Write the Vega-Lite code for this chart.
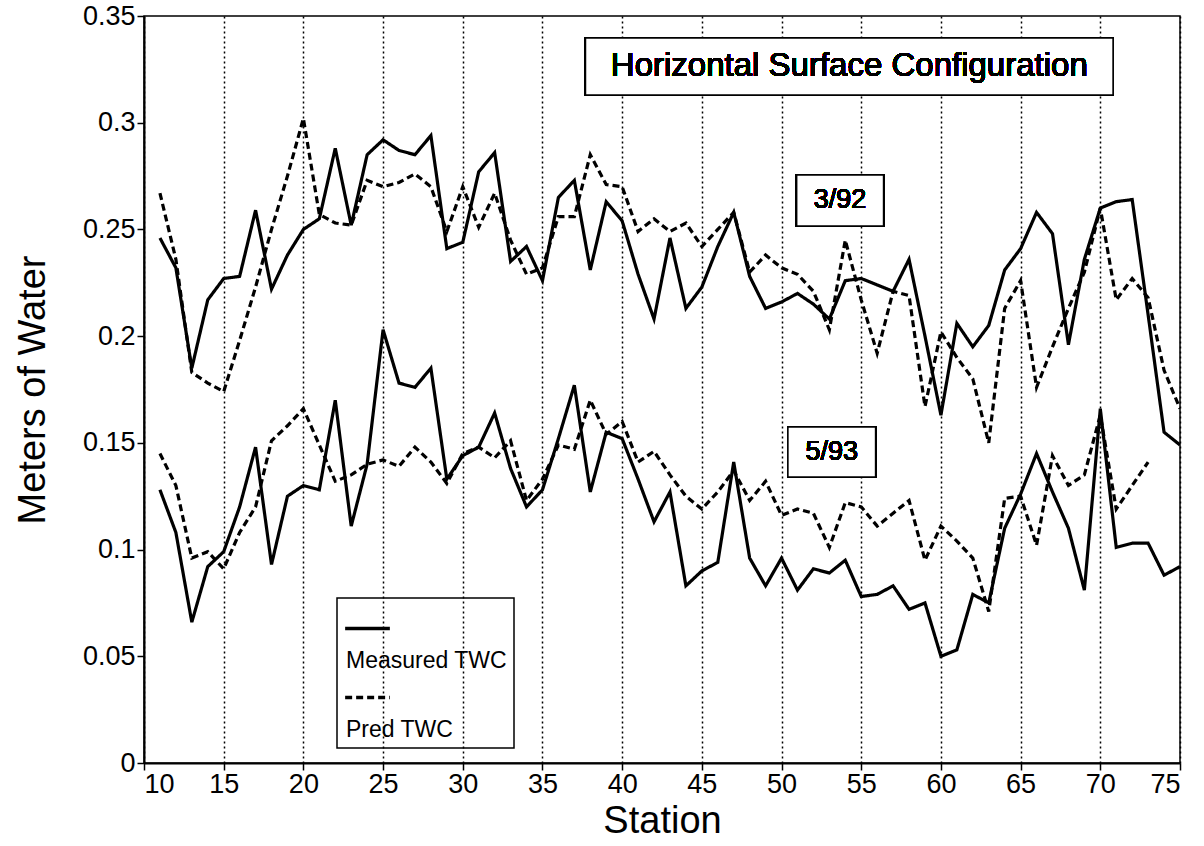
{
  "$schema": "https://vega.github.io/schema/vega-lite/v6.json",
  "autosize": "none",
  "width": 1036,
  "height": 747,
  "padding": {"left": 144, "top": 16, "right": 24, "bottom": 83},
  "background": "white",
  "config": {
    "font": "Liberation Sans",
    "view": {"stroke": "black", "strokeWidth": 1.5},
    "axis": {
      "domainColor": "black", "domainWidth": 2, "tickColor": "black", "tickWidth": 1.5, "tickSize": 7,
      "labelColor": "black", "labelFontSize": 27, "titleColor": "black", "titleFontSize": 38,
      "titleFontWeight": "normal", "labelFont": "Liberation Sans", "titleFont": "Liberation Sans"
    },
    "legend": {
      "orient": "none", "legendX": 193, "legendY": 582, "strokeColor": "black", "strokeWidth": 1.5,
      "padding": 6, "symbolType": "stroke", "symbolStrokeColor": "black", "symbolStrokeWidth": 3.5,
      "symbolSize": 2000, "labelFontSize": 23, "labelColor": "black", "labelFont": "Liberation Sans",
      "labelLimit": 300, "rowPadding": -4, "labelOffset": -46, "title": null
    }
  },
  "data": {"values": [
    {"station": 11, "m92": 0.246, "p92": 0.267, "m93": 0.128, "p93": 0.145},
    {"station": 12, "m92": 0.232, "p92": 0.236, "m93": 0.108, "p93": 0.130},
    {"station": 13, "m92": 0.185, "p92": 0.183, "m93": 0.066, "p93": 0.096},
    {"station": 14, "m92": 0.217, "p92": 0.178, "m93": 0.092, "p93": 0.099},
    {"station": 15, "m92": 0.227, "p92": 0.174, "m93": 0.099, "p93": 0.091},
    {"station": 16, "m92": 0.228, "p92": 0.198, "m93": 0.120, "p93": 0.108},
    {"station": 17, "m92": 0.259, "p92": 0.223, "m93": 0.148, "p93": 0.120},
    {"station": 18, "m92": 0.222, "p92": 0.250, "m93": 0.093, "p93": 0.151},
    {"station": 19, "m92": 0.238, "p92": 0.275, "m93": 0.125, "p93": 0.158},
    {"station": 20, "m92": 0.250, "p92": 0.302, "m93": 0.130, "p93": 0.166},
    {"station": 21, "m92": 0.255, "p92": 0.257, "m93": 0.128, "p93": 0.149},
    {"station": 22, "m92": 0.288, "p92": 0.253, "m93": 0.170, "p93": 0.132},
    {"station": 23, "m92": 0.252, "p92": 0.252, "m93": 0.111, "p93": 0.135},
    {"station": 24, "m92": 0.285, "p92": 0.273, "m93": 0.140, "p93": 0.140},
    {"station": 25, "m92": 0.292, "p92": 0.270, "m93": 0.203, "p93": 0.142},
    {"station": 26, "m92": 0.287, "p92": 0.272, "m93": 0.178, "p93": 0.139},
    {"station": 27, "m92": 0.285, "p92": 0.276, "m93": 0.176, "p93": 0.148},
    {"station": 28, "m92": 0.294, "p92": 0.270, "m93": 0.185, "p93": 0.141},
    {"station": 29, "m92": 0.241, "p92": 0.249, "m93": 0.133, "p93": 0.131},
    {"station": 30, "m92": 0.244, "p92": 0.270, "m93": 0.144, "p93": 0.145},
    {"station": 31, "m92": 0.277, "p92": 0.251, "m93": 0.148, "p93": 0.148},
    {"station": 32, "m92": 0.286, "p92": 0.267, "m93": 0.164, "p93": 0.143},
    {"station": 33, "m92": 0.235, "p92": 0.245, "m93": 0.138, "p93": 0.151},
    {"station": 34, "m92": 0.242, "p92": 0.229, "m93": 0.120, "p93": 0.123},
    {"station": 35, "m92": 0.226, "p92": 0.232, "m93": 0.128, "p93": 0.133},
    {"station": 36, "m92": 0.265, "p92": 0.256, "m93": 0.152, "p93": 0.149},
    {"station": 37, "m92": 0.273, "p92": 0.256, "m93": 0.177, "p93": 0.147},
    {"station": 38, "m92": 0.231, "p92": 0.285, "m93": 0.127, "p93": 0.170},
    {"station": 39, "m92": 0.263, "p92": 0.271, "m93": 0.155, "p93": 0.154},
    {"station": 40, "m92": 0.254, "p92": 0.270, "m93": 0.152, "p93": 0.160},
    {"station": 41, "m92": 0.229, "p92": 0.249, "m93": 0.133, "p93": 0.141},
    {"station": 42, "m92": 0.208, "p92": 0.255, "m93": 0.113, "p93": 0.146},
    {"station": 43, "m92": 0.246, "p92": 0.249, "m93": 0.127, "p93": 0.135},
    {"station": 44, "m92": 0.213, "p92": 0.253, "m93": 0.083, "p93": 0.125},
    {"station": 45, "m92": 0.223, "p92": 0.242, "m93": 0.090, "p93": 0.119},
    {"station": 46, "m92": 0.242, "p92": 0.250, "m93": 0.094, "p93": 0.127},
    {"station": 47, "m92": 0.258, "p92": 0.258, "m93": 0.141, "p93": 0.137},
    {"station": 48, "m92": 0.228, "p92": 0.230, "m93": 0.096, "p93": 0.123},
    {"station": 49, "m92": 0.213, "p92": 0.238, "m93": 0.083, "p93": 0.132},
    {"station": 50, "m92": 0.216, "p92": 0.232, "m93": 0.096, "p93": 0.116},
    {"station": 51, "m92": 0.220, "p92": 0.229, "m93": 0.081, "p93": 0.119},
    {"station": 52, "m92": 0.215, "p92": 0.221, "m93": 0.091, "p93": 0.117},
    {"station": 53, "m92": 0.208, "p92": 0.203, "m93": 0.089, "p93": 0.101},
    {"station": 54, "m92": 0.226, "p92": 0.245, "m93": 0.095, "p93": 0.122},
    {"station": 55, "m92": 0.227, "p92": 0.217, "m93": 0.078, "p93": 0.120},
    {"station": 56, "m92": 0.224, "p92": 0.192, "m93": 0.079, "p93": 0.111},
    {"station": 57, "m92": 0.221, "p92": 0.221, "m93": 0.083, "p93": 0.117},
    {"station": 58, "m92": 0.236, "p92": 0.219, "m93": 0.072, "p93": 0.123},
    {"station": 59, "m92": 0.200, "p92": 0.167, "m93": 0.075, "p93": 0.095},
    {"station": 60, "m92": 0.163, "p92": 0.202, "m93": 0.050, "p93": 0.111},
    {"station": 61, "m92": 0.206, "p92": 0.190, "m93": 0.053, "p93": 0.104},
    {"station": 62, "m92": 0.195, "p92": 0.180, "m93": 0.079, "p93": 0.096},
    {"station": 63, "m92": 0.205, "p92": 0.150, "m93": 0.075, "p93": 0.071},
    {"station": 64, "m92": 0.231, "p92": 0.213, "m93": 0.110, "p93": 0.124},
    {"station": 65, "m92": 0.241, "p92": 0.226, "m93": 0.126, "p93": 0.125},
    {"station": 66, "m92": 0.258, "p92": 0.176, "m93": 0.145, "p93": 0.102},
    {"station": 67, "m92": 0.248, "p92": 0.195, "m93": 0.127, "p93": 0.144},
    {"station": 68, "m92": 0.196, "p92": 0.213, "m93": 0.110, "p93": 0.130},
    {"station": 69, "m92": 0.236, "p92": 0.230, "m93": 0.081, "p93": 0.135},
    {"station": 70, "m92": 0.260, "p92": 0.260, "m93": 0.166, "p93": 0.163},
    {"station": 71, "m92": 0.263, "p92": 0.217, "m93": 0.101, "p93": 0.119},
    {"station": 72, "m92": 0.264, "p92": 0.227, "m93": 0.103, "p93": 0.130},
    {"station": 73, "m92": 0.210, "p92": 0.218, "m93": 0.103, "p93": 0.141},
    {"station": 74, "m92": 0.155, "p92": 0.184, "m93": 0.088, "p93": null},
    {"station": 75, "m92": 0.149, "p92": 0.166, "m93": 0.092, "p93": null}
  ]},
  "encoding": {
    "x": {
      "field": "station", "type": "quantitative", "title": "Station",
      "scale": {"domain": [10, 75], "nice": false, "zero": false},
      "axis": {
        "values": [10, 15, 20, 25, 30, 35, 40, 45, 50, 55, 60, 65, 70, 75],
        "grid": true, "gridColor": "black", "gridDash": [2, 3], "gridWidth": 1.5, "gridOpacity": 1,
        "labelPadding": 1, "titlePadding": 5
      }
    }
  },
  "layer": [
    {
      "mark": {"type": "line", "color": "black", "strokeWidth": 3.2, "clip": true},
      "encoding": {
        "y": {
          "field": "m92", "type": "quantitative", "title": "Meters of Water",
          "scale": {"domain": [0, 0.35], "nice": false},
          "axis": {"values": [0, 0.05, 0.1, 0.15, 0.2, 0.25, 0.3, 0.35], "format": ".2~f", "grid": false, "labelPadding": 2, "titlePadding": 30}
        },
        "strokeDash": {
          "datum": "Measured TWC", "type": "nominal",
          "scale": {"domain": ["Measured TWC", "Pred TWC"], "range": [[1, 0], [7, 4]]},
          "legend": {
            "title": null,
            "encode": {"labels": {"update": {"dy": {"value": 32}}}}
          }
        }
      }
    },
    {
      "mark": {"type": "line", "color": "black", "strokeWidth": 3.2, "clip": true},
      "encoding": {
        "y": {"field": "p92", "type": "quantitative"},
        "strokeDash": {"datum": "Pred TWC", "type": "nominal"}
      }
    },
    {
      "mark": {"type": "line", "color": "black", "strokeWidth": 3.2, "clip": true},
      "encoding": {
        "y": {"field": "m93", "type": "quantitative"},
        "strokeDash": {"datum": "Measured TWC", "type": "nominal"}
      }
    },
    {
      "mark": {"type": "line", "color": "black", "strokeWidth": 3.2, "clip": true},
      "encoding": {
        "y": {"field": "p93", "type": "quantitative"},
        "strokeDash": {"datum": "Pred TWC", "type": "nominal"}
      }
    },
    {
      "mark": {"type": "rect", "fill": "white", "stroke": "black", "strokeWidth": 1.5},
      "encoding": {
        "x": {"datum": 37.7, "type": "quantitative"},
        "x2": {"datum": 70.8},
        "y": {"datum": 0.3397, "type": "quantitative"},
        "y2": {"datum": 0.313}
      }
    },
    {
      "mark": {"type": "text", "fontSize": 33, "fill": "black", "align": "center", "baseline": "middle"},
      "encoding": {
        "x": {"datum": 54.25, "type": "quantitative"},
        "y": {"datum": 0.3265, "type": "quantitative"},
        "text": {"value": "Horizontal Surface Configuration"}
      }
    },
    {
      "mark": {"type": "rect", "fill": "white", "stroke": "black", "strokeWidth": 1.5},
      "encoding": {
        "x": {"datum": 50.95, "type": "quantitative"},
        "x2": {"datum": 56.4},
        "y": {"datum": 0.2755, "type": "quantitative"},
        "y2": {"datum": 0.2516}
      }
    },
    {
      "mark": {"type": "text", "fontSize": 27, "fill": "black", "align": "center", "baseline": "middle"},
      "encoding": {
        "x": {"datum": 53.67, "type": "quantitative"},
        "y": {"datum": 0.2636, "type": "quantitative"},
        "text": {"value": "3/92"}
      }
    },
    {
      "mark": {"type": "rect", "fill": "white", "stroke": "black", "strokeWidth": 1.5},
      "encoding": {
        "x": {"datum": 50.4, "type": "quantitative"},
        "x2": {"datum": 55.9},
        "y": {"datum": 0.1574, "type": "quantitative"},
        "y2": {"datum": 0.134}
      }
    },
    {
      "mark": {"type": "text", "fontSize": 27, "fill": "black", "align": "center", "baseline": "middle"},
      "encoding": {
        "x": {"datum": 53.15, "type": "quantitative"},
        "y": {"datum": 0.1457, "type": "quantitative"},
        "text": {"value": "5/93"}
      }
    }
  ]
}
